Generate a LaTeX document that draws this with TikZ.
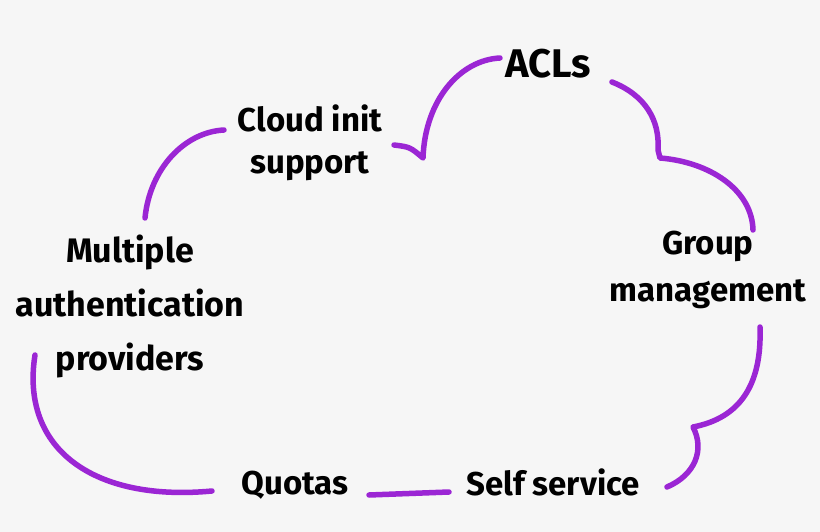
\documentclass[tikz,border=0pt]{standalone}
\usepackage{fontspec}
\setmainfont{Fira Sans}
\usetikzlibrary{positioning}
\definecolor{bgray}{HTML}{F6F6F6}
\definecolor{cloudpurple}{HTML}{9B26D4}

\begin{document}
\begin{tikzpicture}[x=1pt,y=-1pt,
    lbl/.style={text=black, align=center, font=\fontsize{33}{42}\bfseries, inner sep=0pt},
    edge/.style={draw=cloudpurple, line width=5.5pt, line cap=round, line join=round}]
    \fill[bgray] (0,0) rectangle (820,532);
    \useasboundingbox (0,0) rectangle (820,532);
    % labels round the cloud
    \node[lbl, font=\fontsize{40}{42}\bfseries] (acls) at (548,64) {ACLs};
    \node[lbl] (cloud) at (310,143) {Cloud init\\support};
    \node[lbl, font=\fontsize{33}{47}\bfseries] (group) at (708,270) {Group\\management};
    \node[lbl, font=\fontsize{34}{54}\bfseries] (multi) at (130,306) {Multiple\\authentication\\providers};
    \node[lbl] (quotas) at (295,485) {Quotas};
    \node[lbl] (self) at (553,482) {Self service};
    % ends of the cloud strokes
    \coordinate (cloud-e) at (394,145);
    \coordinate (acls-w) at (500,58);
    \coordinate (acls-e) at (612,82);
    \coordinate (group-n) at (753,230);
    \coordinate (group-s) at (760,327);
    \coordinate (self-e) at (667,487);
    \coordinate (self-w) at (449,492);
    \coordinate (quotas-e) at (369,495);
    \coordinate (quotas-w) at (212,491);
    \coordinate (multi-s) at (35,355);
    \coordinate (multi-n) at (145,218);
    \coordinate (cloud-w) at (224,130);
    % cloud outline
    \draw[edge] (cloud-e) .. controls (410,147) .. (423,158)
        .. controls (425,100) and (460,60) .. (acls-w);
    \draw[edge] (acls-e) .. controls (645,95) and (660,120) .. (658,150) -- (660,158)
        .. controls (710,162) and (752,190) .. (group-n);
    \draw[edge] (group-s) .. controls (762,385) and (740,418) .. (693,427)
        .. controls (705,450) and (695,475) .. (self-e);
    \draw[edge] (self-w) -- (quotas-e);
    \draw[edge] (quotas-w) .. controls (95,502) and (20,450) .. (multi-s);
    \draw[edge] (multi-n) .. controls (150,168) and (185,132) .. (cloud-w);
\end{tikzpicture}
\end{document}
